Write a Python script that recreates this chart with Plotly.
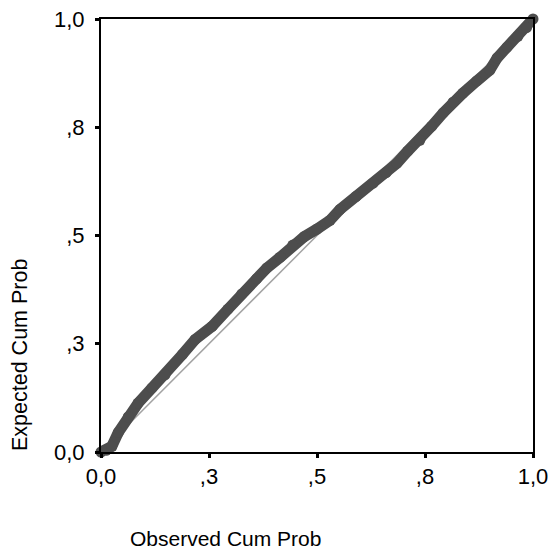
import plotly.graph_objects as go

observed = [0.0, 0.012, 0.025, 0.04, 0.063, 0.086, 0.118, 0.148, 0.188, 0.218,
            0.257, 0.294, 0.326, 0.36, 0.384, 0.415, 0.444, 0.47, 0.5, 0.53,
            0.553, 0.59, 0.63, 0.66, 0.685, 0.71, 0.738, 0.765, 0.792, 0.815,
            0.838, 0.87, 0.9, 0.917, 0.94, 0.965, 0.985, 1.0]
expected = [0.0, 0.004, 0.013, 0.045, 0.081, 0.113, 0.148, 0.178, 0.225, 0.26,
            0.29, 0.33, 0.365, 0.4, 0.425, 0.45, 0.478, 0.497, 0.515, 0.535,
            0.56, 0.59, 0.621, 0.645, 0.667, 0.695, 0.72, 0.752, 0.783, 0.808,
            0.829, 0.857, 0.882, 0.91, 0.935, 0.96, 0.98, 1.0]
ref_line = [0.0, 1.0]
tick_vals = [0.0, 0.25, 0.5, 0.75, 1.0]
tick_text = ["0,0", ",3", ",5", ",8", "1,0"]

FONT = "Liberation Sans, Arial, sans-serif"
W, H = 551, 555
L, R, T, B = 101, 18, 19, 103

fig = go.Figure()
fig.add_trace(go.Scatter(x=ref_line, y=ref_line, mode="lines",
                         line=dict(color="#a3a3a3", width=1.5),
                         hoverinfo="skip", cliponaxis=False))
fig.add_trace(go.Scatter(x=observed, y=expected, mode="lines+markers",
                         line=dict(color="#4d4d4d", width=11),
                         marker=dict(color="#4d4d4d", size=11),
                         cliponaxis=False))

axis_common = dict(range=[0, 1], showgrid=False, zeroline=False,
                   showline=True, linecolor="black", linewidth=2, mirror=True,
                   ticks="outside", ticklen=4, tickwidth=3, tickcolor="black",
                   tickvals=tick_vals, ticktext=tick_text, automargin=False,
                   tickfont=dict(family=FONT, size=22, color="black"))
fig.update_xaxes(**axis_common, ticklabelstandoff=0)
fig.update_yaxes(**axis_common, ticklabelstandoff=6)

fig.update_layout(
    width=W, height=H,
    margin=dict(l=L, r=R, t=T, b=B, pad=0, autoexpand=False),
    paper_bgcolor="white", plot_bgcolor="white",
    showlegend=False,
    font=dict(family=FONT, size=21, color="black"),
    annotations=[
        dict(text="Observed Cum Prob", xref="paper", yref="paper",
             x=(128 - L) / (W - L - R), y=-(538 - (H - B)) / (H - T - B),
             xanchor="left", yanchor="middle", showarrow=False,
             font=dict(family=FONT, size=21, color="black")),
        dict(text="Expected Cum Prob", xref="paper", yref="paper",
             x=-(L - 20) / (W - L - R), y=((H - B) - 355) / (H - T - B),
             xanchor="center", yanchor="middle", textangle=-90, showarrow=False,
             font=dict(family=FONT, size=21.5, color="black")),
    ],
)

fig.write_html("out.html")
